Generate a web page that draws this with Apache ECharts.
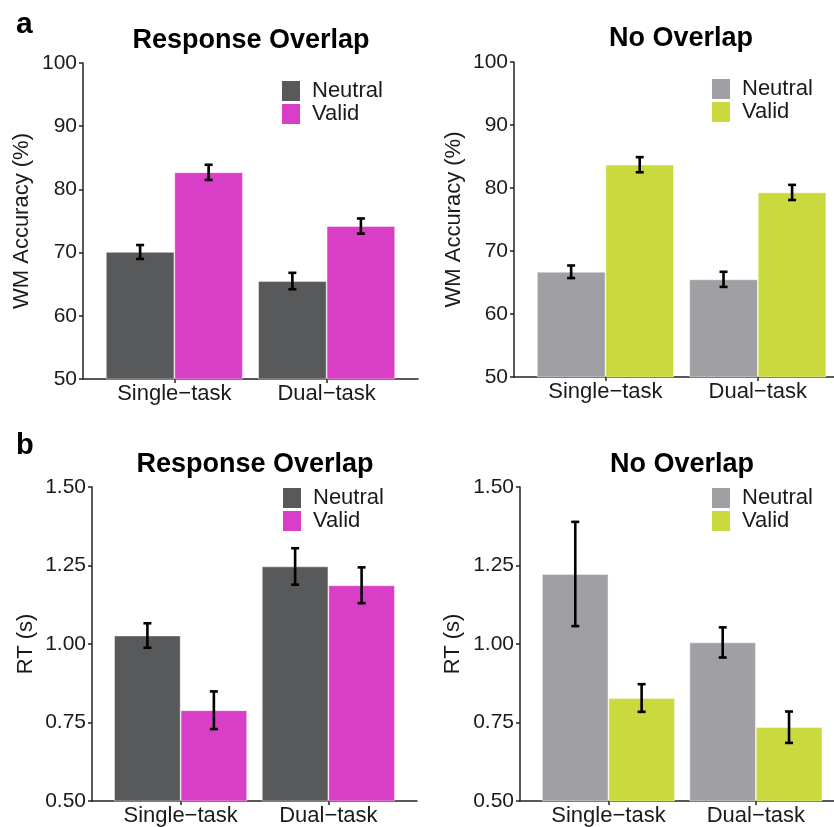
<!DOCTYPE html>
<html><head><meta charset="utf-8">
<script src="https://cdn.jsdelivr.net/npm/echarts@6/dist/echarts.min.js"></script>
<style>html,body{margin:0;padding:0;background:#fff}#c{width:834px;height:827px}</style>
</head><body><div id="c"></div><script>
// ---------- data ----------
const categories = ['Single\u2212task', 'Dual\u2212task'];
const catPos = [1, 2];
const conditions = ['Neutral', 'Valid'];
const panelTitles = ['Response Overlap', 'No Overlap', 'Response Overlap', 'No Overlap'];
const panelLetters = ['a', 'b'];
const accAxisName = 'WM Accuracy (%)';
const rtAxisName = 'RT (s)';

// WM accuracy (%)
const accRespNeutral = [70.1, 65.5];
const accRespNeutralErr = [1.1, 1.3];
const accRespValid = [82.7, 74.2];
const accRespValidErr = [1.2, 1.2];
const accNoNeutral = [66.7, 65.5];
const accNoNeutralErr = [1.0, 1.2];
const accNoValid = [83.7, 79.3];
const accNoValidErr = [1.2, 1.2];

// RT (s)
const rtRespNeutral = [1.027, 1.247];
const rtRespNeutralErr = [0.039, 0.058];
const rtRespValid = [0.789, 1.187];
const rtRespValidErr = [0.060, 0.057];
const rtNoNeutral = [1.223, 1.005];
const rtNoNeutralErr = [0.166, 0.048];
const rtNoValid = [0.828, 0.735];
const rtNoValidErr = [0.044, 0.050];

const colorsResp = ['#58595B', '#D93EC6'];
const colorsNo = ['#A0A0A4', '#C9D93E'];

// ---------- layout ----------
const FONT = 'Liberation Sans, Arial, sans-serif';
const TXT = '#1a1a1a';
const panels = [
  { grid: {left: 83, top: 63, width: 335, height: 316}, xmax: 2.6, y: [50, 100, 10], dec: 0, name: accAxisName, gap: 50,
    vals: [accRespNeutral, accRespValid], errs: [accRespNeutralErr, accRespValidErr], colors: colorsResp, barW: 68.5,
    legend: {left: 282, top: 80}, title: {x: 251, y: 40.6} },
  { grid: {left: 514, top: 62, width: 320, height: 315}, xmax: 2.5, y: [50, 100, 10], dec: 0, name: accAxisName, gap: 49,
    vals: [accNoNeutral, accNoValid], errs: [accNoNeutralErr, accNoValidErr], colors: colorsNo, barW: 68.5,
    legend: {left: 712, top: 78}, title: {x: 681, y: 38.6} },
  { grid: {left: 92, top: 487, width: 325, height: 314}, xmax: 2.6, y: [0.5, 1.5, 0.25], dec: 2, name: rtAxisName, gap: 55,
    vals: [rtRespNeutral, rtRespValid], errs: [rtRespNeutralErr, rtRespValidErr], colors: colorsResp, barW: 66.5,
    legend: {left: 283, top: 487}, title: {x: 255, y: 464.6} },
  { grid: {left: 520, top: 487, width: 314, height: 314}, xmax: 2.53, y: [0.5, 1.5, 0.25], dec: 2, name: rtAxisName, gap: 56,
    vals: [rtNoNeutral, rtNoValid], errs: [rtNoNeutralErr, rtNoValidErr], colors: colorsNo, barW: 66.5,
    legend: {left: 712, top: 487}, title: {x: 682, y: 464.6} }
];

const dodge = 0.225;
const axisLineStyle = {color: '#222', width: 1.5};

const grids = [], xAxes = [], yAxes = [], series = [], legends = [], graphics = [];
panels.forEach((p, i) => {
  grids.push(Object.assign({containLabel: false}, p.grid));
  xAxes.push({
    type: 'value', gridIndex: i, min: 0.4, max: p.xmax,
    splitLine: {show: false},
    axisLine: {show: true, lineStyle: axisLineStyle},
    axisTick: {show: true, length: 4, lineStyle: axisLineStyle, customValues: catPos},
    axisLabel: {show: true, customValues: catPos, margin: 4, fontSize: 22, fontFamily: FONT, color: TXT,
      formatter: v => categories[catPos.indexOf(Math.round(v))] || ''}
  });
  yAxes.push({
    type: 'value', gridIndex: i, min: p.y[0], max: p.y[1], interval: p.y[2],
    splitLine: {show: false},
    axisLine: {show: true, lineStyle: axisLineStyle},
    axisTick: {show: true, length: 4, lineStyle: axisLineStyle},
    axisLabel: {margin: 6, fontSize: 21, fontFamily: FONT, color: TXT, formatter: v => v.toFixed(p.dec)},
    name: p.name, nameLocation: 'middle', nameRotate: 90, nameGap: p.gap,
    nameTextStyle: {fontSize: 22, fontFamily: FONT, color: TXT}
  });
  conditions.forEach((c, k) => {
    series.push({
      type: 'bar', name: c, xAxisIndex: i, yAxisIndex: i,
      barWidth: p.barW, barGap: '0%',
      itemStyle: {color: p.colors[k], borderColor: 'rgba(255,255,255,0.55)', borderWidth: 0.8},
      data: catPos.map((x, j) => [x, p.vals[k][j]]),
      z: 2
    });
  });
  conditions.forEach((c, k) => {
    const off = k === 0 ? -dodge : dodge;
    series.push({
      type: 'custom', name: 'err' + i + k, xAxisIndex: i, yAxisIndex: i, z: 5,
      encode: {x: 0, y: [1, 2]},
      data: catPos.map((x, j) => [x + off, p.vals[k][j] - p.errs[k][j], p.vals[k][j] + p.errs[k][j]]),
      renderItem: (params, api) => {
        const x = api.value(0);
        const lo = api.coord([x, api.value(1)]);
        const hi = api.coord([x, api.value(2)]);
        const hw = 4;
        const st = {stroke: '#000', lineWidth: 2.6};
        return {type: 'group', children: [
          {type: 'line', shape: {x1: lo[0], y1: lo[1], x2: hi[0], y2: hi[1]}, style: st},
          {type: 'line', shape: {x1: lo[0] - hw, y1: lo[1], x2: lo[0] + hw, y2: lo[1]}, style: st},
          {type: 'line', shape: {x1: hi[0] - hw, y1: hi[1], x2: hi[0] + hw, y2: hi[1]}, style: st}
        ]};
      }
    });
  });
  legends.push({
    left: p.legend.left, top: p.legend.top, orient: 'vertical', padding: 0,
    itemWidth: 18, itemHeight: 20, itemGap: 1, icon: 'rect', selectedMode: false,
    data: conditions.map((c, k) => ({name: c, itemStyle: {color: p.colors[k], borderWidth: 0}})),
    textStyle: {fontSize: 22, fontFamily: FONT, color: TXT, lineHeight: 20, padding: [0, 0, 0, 7]}
  });
  graphics.push({
    type: 'text', x: p.title.x, y: p.title.y,
    style: {text: panelTitles[i], font: 'bold 27px ' + FONT, fill: '#000', align: 'center', verticalAlign: 'middle'}
  });
});
graphics.push({type: 'text', x: 16, y: 24.5, style: {text: panelLetters[0], font: 'bold 30px ' + FONT, fill: '#000', align: 'left', verticalAlign: 'middle'}});
graphics.push({type: 'text', x: 16, y: 446, style: {text: panelLetters[1], font: 'bold 29px ' + FONT, fill: '#000', align: 'left', verticalAlign: 'middle'}});

const chart = echarts.init(document.getElementById('c'), null, {renderer: 'canvas'});
chart.setOption({
  animation: false,
  backgroundColor: '#fff',
  grid: grids, xAxis: xAxes, yAxis: yAxes, series: series, legend: legends, graphic: graphics
});
</script></body></html>
